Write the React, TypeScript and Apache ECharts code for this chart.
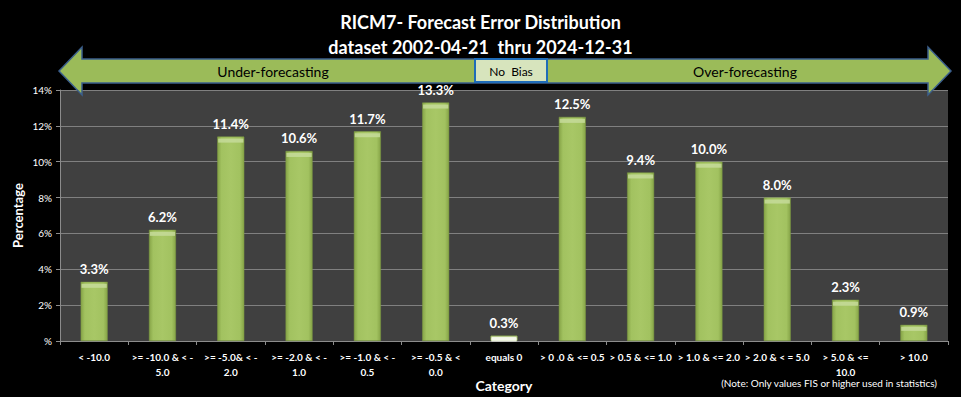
import React, { useEffect, useRef } from "react";
import * as echarts from "echarts";

const categories = [
  "< -10.0",
  ">= -10.0 & < -\n5.0",
  ">= -5.0& < -\n2.0",
  ">= -2.0 & < -\n1.0",
  ">= -1.0 & < -\n0.5",
  ">= -0.5 & <\n0.0",
  "equals 0",
  "> 0 .0 & <= 0.5",
  "> 0.5 & <= 1.0",
  "> 1.0 & <= 2.0",
  "> 2.0 & < = 5.0",
  "> 5.0 & <=\n10.0",
  "> 10.0",
];
const values = [3.3, 6.2, 11.4, 10.6, 11.7, 13.3, 0.3, 12.5, 9.4, 10.0, 8.0, 2.3, 0.9];
const yTicks = { min: 0, max: 14, interval: 2 };
const titleLines = ["RICM7- Forecast Error Distribution", "dataset 2002-04-21  thru 2024-12-31"];
const bannerTexts = { left: "Under-forecasting", middle: "No  Bias", right: "Over-forecasting" };
const noteText = "(Note: Only values FIS or higher used in statistics)";

const FONT = "Lato, 'Liberation Sans', Arial, sans-serif";

export default function App() {
  const ref = useRef<HTMLDivElement>(null);
  useEffect(() => {
    if (!ref.current) return;
    const chart = echarts.init(ref.current, null, { renderer: "svg" });
    const barGrad = new echarts.graphic.LinearGradient(0, 0, 1, 0, [
      { offset: 0, color: "#86a447" },
      { offset: 0.15, color: "#a2c260" },
      { offset: 0.5, color: "#a8c766" },
      { offset: 0.85, color: "#a2c260" },
      { offset: 1, color: "#86a447" },
    ]);
    chart.setOption({
      animation: false,
      backgroundColor: "#000000",
      textStyle: { fontFamily: FONT },
      title: {
        text: titleLines.join("\n"),
        left: "center",
        top: 4,
        textStyle: {
          color: "#ffffff",
          fontSize: 18,
          fontWeight: "bold",
          fontFamily: FONT,
          lineHeight: 25,
        },
      },
      grid: {
        left: 60,
        right: 13,
        top: 90,
        bottom: 56,
        show: true,
        backgroundColor: "#404040",
        borderWidth: 0,
        outerBoundsMode: "none",
        containLabel: false,
      },
      xAxis: {
        type: "category",
        data: categories,
        name: "Category",
        nameLocation: "middle",
        nameGap: 37,
        nameMoveOverlap: false,
        nameTextStyle: { color: "#ffffff", fontSize: 14, fontWeight: "bold", fontFamily: FONT },
        axisLine: { show: true, lineStyle: { color: "#8c8c8c", width: 1 } },
        axisTick: { show: true, length: 4, lineStyle: { color: "#8c8c8c" } },
        axisLabel: {
          color: "#ffffff",
          fontSize: 10,
          fontWeight: "bold",
          fontFamily: FONT,
          interval: 0,
          margin: 8,
          lineHeight: 15,
        },
      },
      yAxis: {
        type: "value",
        min: yTicks.min,
        max: yTicks.max,
        interval: yTicks.interval,
        name: "Percentage",
        nameLocation: "middle",
        nameGap: 36,
        nameMoveOverlap: false,
        nameTextStyle: { color: "#ffffff", fontSize: 13, fontWeight: "bold", fontFamily: FONT },
        axisLine: { show: true, lineStyle: { color: "#8c8c8c", width: 1 } },
        axisTick: { show: true, length: 4, lineStyle: { color: "#8c8c8c" } },
        axisLabel: {
          color: "#ffffff",
          fontSize: 10,
          fontFamily: FONT,
          margin: 8,
          formatter: (v: number) => (v === 0 ? "%" : v + "%"),
        },
        splitLine: { show: true, lineStyle: { color: "#808080", width: 1 } },
      },
      series: [
        {
          type: "bar",
          data: values.map((v, i) =>
            i === 6
              ? { value: v, itemStyle: { color: "#eef3e2", borderColor: "#9bbb59", borderWidth: 1 } }
              : v
          ),
          barWidth: 27,
          itemStyle: { color: barGrad, borderColor: "#7d9a42", borderWidth: 0.5 },
          label: {
            show: true,
            position: "top",
            distance: 6,
            color: "#ffffff",
            fontSize: 13,
            fontWeight: "bold",
            fontFamily: FONT,
            formatter: (p: any) => Number(p.value).toFixed(1) + "%",
          },
        },
        {
          type: "pictorialBar",
          data: values.map((v, i) =>
            i === 6 ? { value: v, itemStyle: { color: "#f4f7ec" } } : v
          ),
          symbol: "rect",
          symbolSize: [25, 4],
          symbolPosition: "end",
          symbolOffset: [0, "50%"],
          barGap: "-100%",
          z: 5,
          itemStyle: { color: "#c5da9a", opacity: 0.85 },
          silent: true,
        },
      ],
      graphic: [
        {
          type: "polygon",
          z: 100,
          shape: {
            points: [
              [59, 71],
              [82, 47],
              [82, 59],
              [928, 59],
              [928, 47],
              [951, 71],
              [928, 95],
              [928, 83],
              [82, 83],
              [82, 95],
            ],
          },
          style: { fill: "#9bbb59", stroke: "#3b5f8c", lineWidth: 1.5 },
        },
        {
          type: "rect",
          z: 101,
          shape: { x: 475, y: 59, width: 72, height: 23 },
          style: { fill: "#d7e4bd", stroke: "#1f6cb8", lineWidth: 2 },
        },
        {
          type: "text",
          z: 102,
          x: 273,
          y: 71,
          style: {
            text: bannerTexts.left,
            fill: "#000000",
            font: `14px ${FONT}`,
            align: "center",
            verticalAlign: "middle",
          },
        },
        {
          type: "text",
          z: 102,
          x: 511,
          y: 71,
          style: {
            text: bannerTexts.middle,
            fill: "#000000",
            font: `12px ${FONT}`,
            align: "center",
            verticalAlign: "middle",
          },
        },
        {
          type: "text",
          z: 102,
          x: 745,
          y: 71,
          style: {
            text: bannerTexts.right,
            fill: "#000000",
            font: `14px ${FONT}`,
            align: "center",
            verticalAlign: "middle",
          },
        },
        {
          type: "text",
          z: 102,
          x: 937,
          y: 383,
          style: {
            text: noteText,
            fill: "#ffffff",
            font: `10px ${FONT}`,
            align: "right",
            verticalAlign: "middle",
          },
        },
      ],
    });
    return () => chart.dispose();
  }, []);
  return (
    <div
      ref={ref}
      style={{ position: "fixed", left: 0, top: 0, width: 961, height: 397, background: "#000" }}
    />
  );
}
